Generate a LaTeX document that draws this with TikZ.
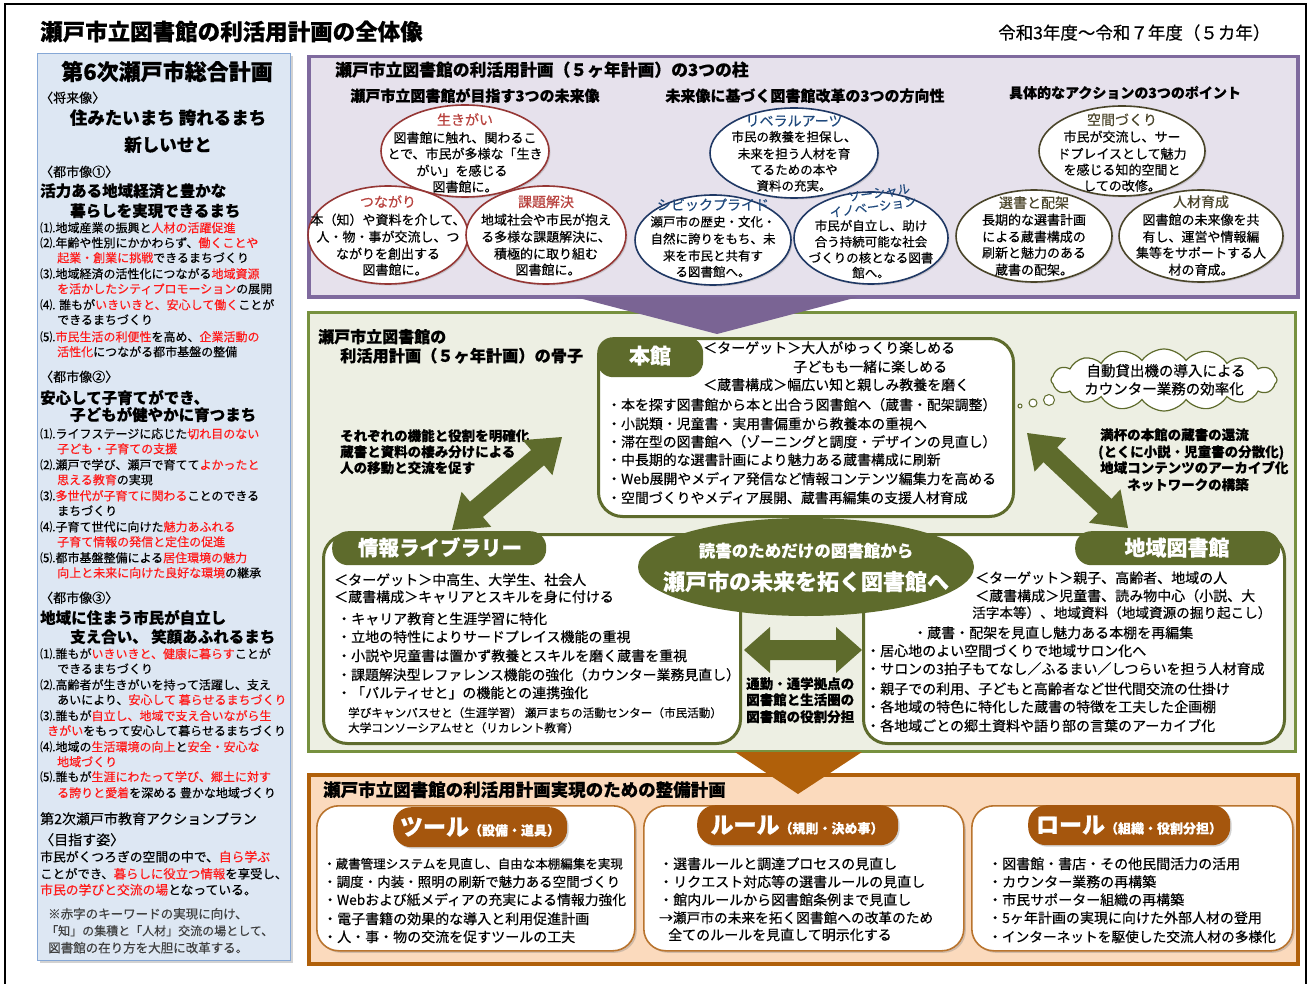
\documentclass[tikz,border=0pt]{standalone}
\usepackage{fontspec}
\setmainfont{Noto Sans CJK JP}
\newfontfamily\md{Noto Sans CJK JP}[FakeBold=0.4]
\usetikzlibrary{shapes.geometric,shapes.symbols,shadows,calc}
\definecolor{pur}{HTML}{7F6A9E}
\definecolor{purfill}{HTML}{E6E1EC}
\definecolor{purarr}{HTML}{7A6494}
\definecolor{grn}{HTML}{77913F}
\definecolor{grnfill}{HTML}{EDEFE3}
\definecolor{olv}{HTML}{5E6B2C}
\definecolor{org}{HTML}{B0600A}
\definecolor{orgfill}{HTML}{FBDABD}
\definecolor{orgtab}{HTML}{A5560D}
\definecolor{orgln}{HTML}{B9742E}
\definecolor{blu}{HTML}{86A8D6}
\definecolor{blufill}{HTML}{DDE7F3}
\definecolor{redtxt}{HTML}{FF1A1A}
\definecolor{eone}{HTML}{953735}
\definecolor{eonet}{HTML}{B8423E}
\definecolor{etwo}{HTML}{1F3864}
\definecolor{etwot}{HTML}{1F497D}
\definecolor{ethree}{HTML}{4A452A}
\definecolor{notegray}{HTML}{404040}
\newcommand\Lt[5]{\node[anchor=base west,inner sep=0pt,font=\md\fontsize{#2}{#2}\selectfont,yshift={-0.36*#2pt}] (#1) at (#3,#4) {#5};}
\newcommand\Ct[5]{\node[anchor=base,inner sep=0pt,font=\md\fontsize{#2}{#2}\selectfont,yshift={-0.36*#2pt}] (#1) at (#3,#4) {#5};}
\newcommand\rd[1]{\textcolor{redtxt}{#1}}
\newcommand\DArrow[6]{% A B headlen headhalf shafthalf color
  \fill[#6] (#1) -- ($($(#1)!#3pt!(#2)$)!#4pt!90:(#2)$) -- ($($(#1)!#3pt!(#2)$)!#5pt!90:(#2)$)
   -- ($($(#2)!#3pt!(#1)$)!#5pt!-90:(#1)$) -- ($($(#2)!#3pt!(#1)$)!#4pt!-90:(#1)$) -- (#2)
   -- ($($(#2)!#3pt!(#1)$)!#4pt!90:(#1)$) -- ($($(#2)!#3pt!(#1)$)!#5pt!90:(#1)$)
   -- ($($(#1)!#3pt!(#2)$)!#5pt!-90:(#2)$) -- ($($(#1)!#3pt!(#2)$)!#4pt!-90:(#2)$) -- cycle;}
\tikzset{
  panel/.style={anchor=north west,inner sep=0pt,rectangle},
  ellA/.style={ellipse,draw=eone,line width=1.6pt,fill=white,inner sep=0pt,drop shadow={shadow xshift=1.5pt,shadow yshift=-1.5pt,opacity=0.3}},
  ellB/.style={ellipse,draw=etwo,line width=1.6pt,fill=white,inner sep=0pt,drop shadow={shadow xshift=1.5pt,shadow yshift=-1.5pt,opacity=0.3}},
  ellC/.style={ellipse,draw=ethree,line width=1.6pt,fill=white,inner sep=0pt,drop shadow={shadow xshift=1.5pt,shadow yshift=-1.5pt,opacity=0.3}},
  gbox/.style={panel,draw=olv,line width=3pt,fill=white,rounded corners=24pt},
  gtab/.style={panel,fill=olv,rounded corners=16pt},
  obox/.style={panel,draw=orgln,line width=1.6pt,fill=white,rounded corners=22pt,drop shadow={shadow xshift=2pt,shadow yshift=-2pt,opacity=0.35}},
  otab/.style={panel,fill=orgtab,rounded corners=18pt,drop shadow={shadow xshift=1.5pt,shadow yshift=-1.5pt,opacity=0.35}},
}
\begin{document}
\begin{tikzpicture}[x=1pt,y=-1pt]
\useasboundingbox (0,0) rectangle (1313,984);
\fill[white] (0,0) rectangle (1313,984);
\draw[line width=1.5pt] (5,990) -- (5,4) -- (1306,4) -- (1306,990);

% header
\Lt{title}{22.5}{40}{32}{\bfseries 瀬戸市立図書館の利活用計画の全体像}
\Lt{period}{17.5}{998}{33}{令和3年度～令和７年度（５カ年）}

% ===== left panel
\node[panel,draw=blu,fill=blufill,line width=1.2pt,minimum width=253pt,minimum height=907pt,drop shadow={shadow xshift=2.5pt,shadow yshift=-2.5pt,opacity=0.35}] (lp) at (37,53) {};
\Ct{lpT}{22}{167}{72}{\bfseries 第6次瀬戸市総合計画}
\Lt{lpA}{13}{40}{98}{〈将来像〉}
\Ct{lpB}{17.5}{168}{118}{\bfseries 住みたいまち\ 誇れるまち}
\Ct{lpC}{17.5}{168}{145}{\bfseries 新しいせと}
\Lt{ca}{13}{40}{172}{〈都市像①〉}
\Lt{caA}{15.5}{40}{191}{\bfseries 活力ある地域経済と豊かな}
\Lt{caB}{15.5}{70}{211}{\bfseries 暮らしを実現できるまち}
\Lt{ca1}{12}{40}{228}{⑴.地域産業の振興と\rd{人材の活躍促進}}
\Lt{ca2}{12}{40}{243}{⑵.年齢や性別にかかわらず、\rd{働くことや}}
\Lt{ca2b}{12}{57}{258}{\rd{起業・創業に挑戦}できるまちづくり}
\Lt{ca3}{12}{40}{274}{⑶.地域経済の活性化につながる\rd{地域資源}}
\Lt{ca3b}{12}{57}{289}{\rd{を活かしたシティプロモーション}の展開}
\Lt{ca4}{12}{40}{305}{⑷. 誰もが\rd{いきいきと、安心して働く}ことが}
\Lt{ca4b}{12}{57}{320}{できるまちづくり}
\Lt{ca5}{12}{40}{337}{⑸.\rd{市民生活の利便性}を高め、\rd{企業活動の}}
\Lt{ca5b}{12}{57}{352}{\rd{活性化}につながる都市基盤の整備}

\Lt{cb}{13}{40}{377}{〈都市像②〉}
\Lt{cbA}{15.5}{40}{398}{\bfseries 安心して子育てができ、}
\Lt{cbB}{15.5}{70}{415}{\bfseries 子どもが健やかに育つまち}
\Lt{cb1}{12}{40}{434}{⑴.ライフステージに応じた\rd{切れ目のない}}
\Lt{cb1b}{12}{57}{449}{\rd{子ども・子育ての支援}}
\Lt{cb2}{12}{40}{465}{⑵.瀬戸で学び、瀬戸で育てて\rd{よかったと}}
\Lt{cb2b}{12}{57}{480}{\rd{思える教育}の実現}
\Lt{cb3}{12}{40}{496}{⑶.\rd{多世代が子育てに関わる}ことのできる}
\Lt{cb3b}{12}{57}{511}{まちづくり}
\Lt{cb4}{12}{40}{527}{⑷.子育て世代に向けた\rd{魅力あふれる}}
\Lt{cb4b}{12}{57}{542}{\rd{子育て情報の発信と定住の促進}}
\Lt{cb5}{12}{40}{558}{⑸.都市基盤整備による\rd{居住環境の魅力}}
\Lt{cb5b}{12}{57}{573}{\rd{向上と未来に向けた良好な環境}の継承}

\Lt{cc}{13}{40}{598}{〈都市像③〉}
\Lt{ccA}{15.5}{40}{618}{\bfseries 地域に住まう市民が自立し}
\Lt{ccB}{15.5}{70}{637}{\bfseries 支え合い、\ 笑顔あふれるまち}
\Lt{cc1}{12}{40}{654}{⑴.誰もが\rd{いきいきと、健康に暮らす}ことが}
\Lt{cc1b}{12}{57}{669}{できるまちづくり}
\Lt{cc2}{12}{40}{685}{⑵.高齢者が生きがいを持って活躍し、支え}
\Lt{cc2b}{12}{57}{700}{あいにより、\rd{安心して\ 暮らせるまちづくり}}
\Lt{cc3}{12}{40}{716}{⑶.誰もが\rd{自立し、地域で支え合いながら生}}
\Lt{cc3b}{12}{47}{731}{\rd{きがい}をもって安心して暮らせるまちづくり}
\Lt{cc4}{12}{40}{747}{⑷.地域の\rd{生活環境の向上}と\rd{安全・安心な}}
\Lt{cc4b}{12}{57}{762}{\rd{地域づくり}}
\Lt{cc5}{12}{40}{777}{⑸.誰もが\rd{生涯にわたって学び、郷土に対す}}
\Lt{cc5b}{12}{57}{793}{\rd{る誇りと愛着}を深める\ 豊かな地域づくり}

\Lt{ed}{14}{40}{819}{第2次瀬戸市教育アクションプラン}
\Lt{edA}{14}{40}{840}{〈目指す姿〉}
\Lt{ed1}{12.8}{40}{857}{市民がくつろぎの空間の中で、\rd{自ら学ぶ}}
\Lt{ed2}{12.4}{40}{874}{ことができ、\rd{暮らしに役立つ情報}を享受し、}
\Lt{ed3}{12.8}{40}{890}{\rd{市民の学びと交流の場}となっている。}
\Lt{nt1}{12.5}{48}{914}{\textcolor{notegray}{※赤字のキーワードの実現に向け、}}
\Lt{nt2}{12}{46}{931}{\textcolor{notegray}{「知」の集積と「人材」交流の場として、}}
\Lt{nt3}{12.5}{48}{948}{\textcolor{notegray}{図書館の在り方を大胆に改革する。}}

% ===== purple panel
\node[panel,draw=pur,fill=purfill,line width=3.5pt,minimum width=989pt,minimum height=240pt] (pp) at (307,55) {};
\Lt{pT}{16.8}{335}{70}{\bfseries 瀬戸市立図書館の利活用計画（５ヶ年計画）の3つの柱}
\Ct{pH1}{15}{475}{96}{\bfseries 瀬戸市立図書館が目指す3つの未来像}
\Ct{pH2}{15}{805}{96}{\bfseries 未来像に基づく図書館改革の3つの方向性}
\Ct{pH3}{14}{1125}{93}{\bfseries 具体的なアクションの3つのポイント}

\node[ellA,minimum width=168pt,minimum height=92pt] (eIki) at (465,151) {};
\node[ellA,minimum width=160pt,minimum height=98pt] (eTsu) at (388,235) {};
\node[ellA,minimum width=160pt,minimum height=98pt] (eKad) at (546,235) {};
\node[ellB,minimum width=168pt,minimum height=90pt] (eLib) at (794,153) {};
\node[ellB,minimum width=156pt,minimum height=90pt] (eCiv) at (713,240) {};
\node[ellB,minimum width=154pt,minimum height=92pt] (eSoc) at (871,238) {};
\node[ellC,minimum width=166pt,minimum height=90pt] (eKuk) at (1122,151) {};
\node[ellC,minimum width=156pt,minimum height=92pt] (eSen) at (1034,236) {};
\node[ellC,minimum width=164pt,minimum height=92pt] (eJin) at (1201,236) {};

\Ct{eIkiT}{14}{465}{120}{\textcolor{eonet}{生きがい}}
\Ct{eIki1}{13}{465}{138}{図書館に触れ、関わるこ}
\Ct{eIki2}{13}{465}{154}{とで、市民が多様な「生き}
\Ct{eIki3}{13}{462}{171}{がい」を感じる}
\Ct{eIki4}{13}{465}{187}{図書館に。}
\Ct{eTsuT}{14}{388}{202}{\textcolor{eonet}{つながり}}
\Ct{eTsu1}{13}{388}{220}{本（知）や資料を介して、}
\Ct{eTsu2}{13}{388}{237}{人・物・事が交流し、つ}
\Ct{eTsu3}{13}{388}{254}{ながりを創出する}
\Ct{eTsu4}{13}{395}{270}{図書館に。}
\Ct{eKadT}{14}{546}{202}{\textcolor{eonet}{課題解決}}
\Ct{eKad1}{13}{546}{220}{地域社会や市民が抱え}
\Ct{eKad2}{13}{546}{237}{る多様な課題解決に、}
\Ct{eKad3}{13}{546}{254}{積極的に取り組む}
\Ct{eKad4}{13}{548}{270}{図書館に。}

\Ct{eLibT}{14}{794}{121}{\textcolor{etwot}{リベラルアーツ}}
\Ct{eLib1}{12.5}{794}{137}{市民の教養を担保し、}
\Ct{eLib2}{12.5}{794}{154}{未来を担う人材を育}
\Ct{eLib3}{12.5}{794}{170}{てるための本や}
\Ct{eLib4}{12.5}{794}{186}{資料の充実。}
\Ct{eCivT}{14}{713}{205}{\textcolor{etwot}{シビックプライド}}
\Ct{eCiv1}{12.5}{713}{222}{瀬戸市の歴史・文化・}
\Ct{eCiv2}{12.5}{713}{239}{自然に誇りをもち、未}
\Ct{eCiv3}{12.5}{713}{256}{来を市民と共有す}
\Ct{eCiv4}{12.5}{713}{272}{る図書館へ。}
\node[inner sep=0pt,font=\md\fontsize{12.5}{12.5}\selectfont,rotate=8,text=etwot] (eSocT) at (879,193) {ソーシャル};
\node[inner sep=0pt,font=\md\fontsize{12.5}{12.5}\selectfont,rotate=8,text=etwot] (eSocU) at (873,207) {イノベーション};
\Ct{eSoc1}{12.5}{871}{226}{市民が自立し、助け}
\Ct{eSoc2}{12.5}{871}{242}{合う持続可能な社会}
\Ct{eSoc3}{12.5}{871}{258}{づくりの核となる図書}
\Ct{eSoc4}{12.5}{871}{273}{館へ。}

\Ct{eKukT}{14}{1122}{120}{\textcolor{ethree}{空間づくり}}
\Ct{eKuk1}{13}{1122}{137}{市民が交流し、サー}
\Ct{eKuk2}{13}{1122}{154}{ドプレイスとして魅力}
\Ct{eKuk3}{13}{1122}{170}{を感じる知的空間と}
\Ct{eKuk4}{13}{1122}{186}{しての改修。}
\Ct{eSenT}{14}{1034}{203}{\textcolor{ethree}{選書と配架}}
\Ct{eSen1}{13}{1034}{220}{長期的な選書計画}
\Ct{eSen2}{13}{1034}{237}{による蔵書構成の}
\Ct{eSen3}{13}{1034}{253}{刷新と魅力のある}
\Ct{eSen4}{13}{1034}{270}{蔵書の配架。}
\Ct{eJinT}{14}{1201}{202}{\textcolor{ethree}{人材育成}}
\Ct{eJin1}{13}{1201}{220}{図書館の未来像を共}
\Ct{eJin2}{13}{1201}{237}{有し、運営や情報編}
\Ct{eJin3}{13}{1201}{253}{集等をサポートする人}
\Ct{eJin4}{13}{1201}{270}{材の育成。}

% ===== green panel
\node[panel,draw=grn,fill=grnfill,line width=3pt,minimum width=987pt,minimum height=439pt] (gp) at (307,311) {};
% purple arrow
\fill[purarr] (575,297) -- (858,297) -- (717,334) -- cycle;

\Lt{gT1}{16}{318}{337}{\bfseries 瀬戸市立図書館の}
\Lt{gT2}{16.2}{340}{356}{\bfseries 利活用計画（５ヶ年計画）の骨子}

% 本館
\node[gbox,minimum width=415pt,minimum height=178pt] (honkan) at (597,337) {};
\node[gtab,minimum width=106pt,minimum height=40pt] (honkanTab) at (597,337) {};
\Ct{honkanT}{21}{650}{356}{\bfseries\textcolor{white}{本館}}
\Lt{hk1}{14}{703}{348}{＜ターゲット＞大人がゆっくり楽しめる}
\Lt{hk2}{14}{793}{367}{子どもも一緒に楽しめる}
\Lt{hk3}{14}{703}{385}{＜蔵書構成＞幅広い知と親しみ教養を磨く}
\Lt{hk4}{13.9}{607}{405}{・本を探す図書館から本と出合う図書館へ（蔵書・配架調整）}
\Lt{hk5}{13.9}{607}{424}{・小説類・児童書・実用書偏重から教養本の重視へ}
\Lt{hk6}{13.9}{607}{442}{・滞在型の図書館へ（ゾーニングと調度・デザインの見直し）}
\Lt{hk7}{13.9}{607}{460}{・中長期的な選書計画により魅力ある蔵書構成に刷新}
\Lt{hk8}{13.9}{607}{479}{・Web展開やメディア発信など情報コンテンツ編集力を高める}
\Lt{hk9}{13.9}{607}{498}{・空間づくりやメディア展開、蔵書再編集の支援人材育成}

\Lt{lt1}{13.5}{340}{436}{\bfseries それぞれの機能と役割を明確化}
\Lt{lt2}{13.5}{340}{452}{\bfseries 蔵書と資料の棲み分けによる}
\Lt{lt3}{13.5}{340}{468}{\bfseries 人の移動と交流を促す}

% cloud
\node[cloud,cloud puffs=16,cloud puff arc=110,aspect=3.6,draw=olv,line width=1.2pt,fill=white,minimum width=226pt,minimum height=62pt,inner sep=0pt] (cloud) at (1164,380) {};
\node[circle,draw=olv,line width=1pt,fill=white,minimum size=4pt,inner sep=0pt] (bub1) at (1020,406) {};
\node[circle,draw=olv,line width=1pt,fill=white,minimum size=8pt,inner sep=0pt] (bub2) at (1033,403) {};
\node[circle,draw=olv,line width=1pt,fill=white,minimum size=11pt,inner sep=0pt] (bub3) at (1049,400) {};
\Ct{cl1}{14.5}{1166}{371}{自動貸出機の導入による}
\Ct{cl2}{14.5}{1164}{389}{カウンター業務の効率化}

\Lt{rt1}{13.5}{1100}{435}{\bfseries 満杯の本館の蔵書の還流}
\Lt{rt2}{13.5}{1098}{452}{\bfseries (とくに小説・児童書の分散化)}
\Lt{rt3}{13.5}{1100}{468}{\bfseries 地域コンテンツのアーカイブ化}
\Lt{rt4}{13.5}{1127}{485}{\bfseries ネットワークの構築}

% 情報ライブラリー
\node[gbox,minimum width=417pt,minimum height=209pt] (joho) at (322,533) {};
\node[gtab,minimum width=214pt,minimum height=34pt] (johoTab) at (332,531) {};
\Ct{johoT}{20.5}{440}{548}{\bfseries\textcolor{white}{情報ライブラリー}}
\Lt{jh1}{14}{334}{580}{＜ターゲット＞中高生、大学生、社会人}
\Lt{jh2}{14}{334}{597}{＜蔵書構成＞キャリアとスキルを身に付ける}
\Lt{jh3}{14}{337}{619}{・キャリア教育と生涯学習に特化}
\Lt{jh4}{14}{337}{637}{・立地の特性によりサードプレイス機能の重視}
\Lt{jh5}{14}{337}{656}{・小説や児童書は置かず教養とスキルを磨く蔵書を重視}
\Lt{jh6}{13.9}{337}{675}{・課題解決型レファレンス機能の強化（カウンター業務見直し）}
\Lt{jh7}{14}{337}{693}{・「パルティせと」の機能との連携強化}
\Lt{jh8}{11.6}{348}{713}{学びキャンパスせと（生涯学習）\ 瀬戸まちの活動センター（市民活動）}
\Lt{jh9}{11.6}{348}{728}{大学コンソーシアムせと（リカレント教育）}

% 地域図書館
\node[gbox,minimum width=421pt,minimum height=209pt] (chiiki) at (862,533) {};
\node[gtab,minimum width=205pt,minimum height=34pt] (chiikiTab) at (1075,531) {};
\Ct{chiikiT}{21}{1177}{548}{\bfseries\textcolor{white}{地域図書館}}

% center ellipse
\node[ellipse,fill=olv,minimum width=336pt,minimum height=98pt,inner sep=0pt] (center) at (806,567) {};
\Ct{cen1}{16.5}{806}{551}{\bfseries\textcolor{white}{読書のためだけの図書館から}}
\Ct{cen2}{22}{806}{582}{\bfseries\textcolor{white}{瀬戸市の未来を拓く図書館へ}}

\Lt{ck1}{14}{975}{578}{＜ターゲット＞親子、高齢者、地域の人}
\Lt{ck2}{14}{975}{596}{＜蔵書構成＞児童書、読み物中心（小説、大}
\Lt{ck3}{13.6}{972}{613}{活字本等）、地域資料（地域資源の掘り起こし）}
\Lt{ck4}{14}{913}{633}{・蔵書・配架を見直し魅力ある本棚を再編集}
\Lt{ck5}{14}{866}{651}{・居心地のよい空間づくりで地域サロン化へ}
\Lt{ck6}{14}{866}{669}{・サロンの3拍子もてなし／ふるまい／しつらいを担う人材育成}
\Lt{ck7}{14}{866}{689}{・親子での利用、子どもと高齢者など世代間交流の仕掛け}
\Lt{ck8}{14}{866}{707}{・各地域の特色に特化した蔵書の特徴を工夫した企画棚}
\Lt{ck9}{14}{866}{726}{・各地域ごとの郷土資料や語り部の言葉のアーカイブ化}

% double arrows
\coordinate (laA) at (452,530);
\coordinate (laB) at (562,437);
\DArrow{laA}{laB}{32}{23}{10}{olv}
\coordinate (raA) at (1027,433);
\coordinate (raB) at (1128,528);
\DArrow{raA}{raB}{32}{23}{10}{olv}
\coordinate (haA) at (744,650);
\coordinate (haB) at (862,650);
\DArrow{haA}{haB}{26}{23}{10}{olv}
\Lt{md1}{13.5}{746}{684}{\bfseries 通勤・通学拠点の}
\Lt{md2}{13.5}{746}{700}{\bfseries 図書館と生活圏の}
\Lt{md3}{13.5}{746}{717}{\bfseries 図書館の役割分担}

% ===== orange panel
\node[panel,draw=org,fill=orgfill,line width=3.5pt,minimum width=989pt,minimum height=189pt,drop shadow={shadow xshift=2.5pt,shadow yshift=-2.5pt,opacity=0.3}] (op) at (307,773) {};
\fill[org] (735,752) -- (862,752) -- (798,794) -- cycle;
\Lt{oT}{17.5}{323}{790}{\bfseries 瀬戸市立図書館の利活用計画実現のための整備計画}

\node[obox,minimum width=318pt,minimum height=145pt] (tool) at (316,805) {};
\node[obox,minimum width=320pt,minimum height=145pt] (rule) at (643,805) {};
\node[obox,minimum width=321pt,minimum height=145pt] (role) at (971,805) {};
\node[otab,minimum width=174pt,minimum height=40pt] (toolTab) at (393,807) {};
\node[otab,minimum width=201pt,minimum height=40pt] (ruleTab) at (697,805) {};
\node[otab,minimum width=202pt,minimum height=40pt] (roleTab) at (1028,805) {};
\Ct{toolT}{23}{480}{827}{\bfseries\textcolor{white}{ツール\fontsize{13}{13}\selectfont（設備・道具）}}
\Ct{ruleT}{23}{797}{825}{\bfseries\textcolor{white}{ルール\fontsize{13}{13}\selectfont（規則・決め事）}}
\Ct{roleT}{23}{1129}{825}{\bfseries\textcolor{white}{ロール\fontsize{13}{13}\selectfont（組織・役割分担）}}

\Lt{to1}{12.5}{323}{864}{・蔵書管理システムを見直し、自由な本棚編集を実現}
\Lt{to2}{13.5}{323}{882}{・調度・内装・照明の刷新で魅力ある空間づくり}
\Lt{to3}{13.8}{323}{900}{・Webおよび紙メディアの充実による情報力強化}
\Lt{to4}{14}{323}{919}{・電子書籍の効果的な導入と利用促進計画}
\Lt{to5}{14}{323}{937}{・人・事・物の交流を促すツールの工夫}

\Lt{ru1}{14}{659}{864}{・選書ルールと調達プロセスの見直し}
\Lt{ru2}{14}{659}{882}{・リクエスト対応等の選書ルールの見直し}
\Lt{ru3}{14}{659}{900}{・館内ルールから図書館条例まで見直し}
\Lt{ru4}{13.7}{659}{918}{→瀬戸市の未来を拓く図書館への改革のため}
\Lt{ru5}{14}{668}{935}{全てのルールを見直して明示化する}

\Lt{ro1}{14}{988}{864}{・図書館・書店・その他民間活力の活用}
\Lt{ro2}{14}{988}{882}{・カウンター業務の再構築}
\Lt{ro3}{14}{988}{900}{・市民サポーター組織の再構築}
\Lt{ro4}{14}{988}{918}{・5ヶ年計画の実現に向けた外部人材の登用}
\Lt{ro5}{13.7}{988}{937}{・インターネットを駆使した交流人材の多様化}
\end{tikzpicture}
\end{document}
